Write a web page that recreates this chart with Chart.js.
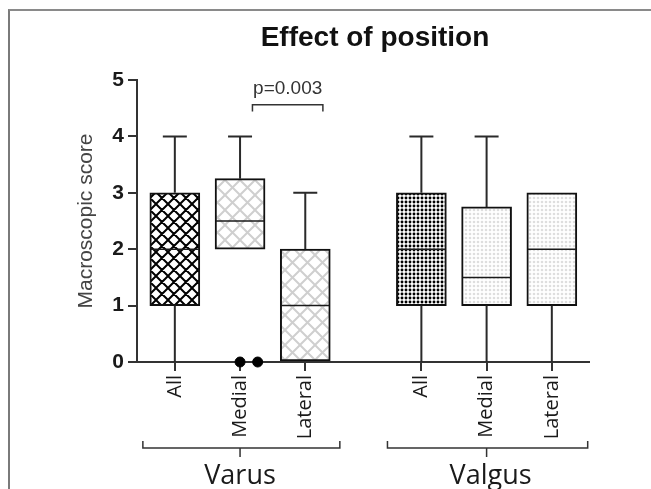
<!DOCTYPE html>
<html>
<head>
<meta charset="utf-8">
<script src="https://cdn.jsdelivr.net/npm/chart.js@4.4.1/dist/chart.umd.min.js"></script>
<style>
  body { margin: 0; background: #fff; }
  #wrap { position: relative; width: 651px; height: 489px; }
  #frame { position: absolute; left: 8px; top: 9px; right: 0; bottom: 0;
           border-top: 2px solid #8a8a8a; border-left: 2px solid #7a7a7a; }
  canvas { position: absolute; left: 0; top: 0; }
</style>
</head>
<body>
<div id="wrap">
  <div id="frame"></div>
  <canvas id="grafico" width="651" height="489"></canvas>
</div>
<script>
// dados
const grupos = ['Varus', 'Valgus'];
const posicoes = ['All', 'Medial', 'Lateral', 'All', 'Medial', 'Lateral'];
const minimo = [0, 2, 0, 0, 0, 0];
const q1 = [1, 2, 0, 1, 1, 1];
const mediana = [2, 2.5, 1, 2, 1.5, 2];
const q3 = [3, 3.25, 2, 3, 2.75, 3];
const maximo = [4, 4, 3, 4, 4, 3];
const outliersX = [2, 2.27];
const outliersY = [0, 0];
const yTicks = [0, 1, 2, 3, 4, 5];
const pValor = 'p=0.003';

// posicao de cada caixa no eixo x (gap entre os grupos)
const slotX = [1, 2, 3, 4.78, 5.78, 6.78];

function padraoCruz(size, color, lw) {
    const c = document.createElement('canvas');
    c.width = c.height = size;
    const g = c.getContext('2d');
    g.fillStyle = '#fff';
    g.fillRect(0, 0, size, size);
    g.strokeStyle = color;
    g.lineWidth = lw;
    g.beginPath();
    for (const o of [-size, 0, size]) {
        g.moveTo(o, 0); g.lineTo(o + size, size);
        g.moveTo(o + size, 0); g.lineTo(o, size);
    }
    g.stroke();
    return g.createPattern(c, 'repeat');
}

function padraoPontos(size, color, r) {
    const c = document.createElement('canvas');
    c.width = c.height = size;
    const g = c.getContext('2d');
    g.fillStyle = '#fff';
    g.fillRect(0, 0, size, size);
    g.fillStyle = color;
    g.beginPath();
    g.arc(size / 2, size / 2, r, 0, Math.PI * 2);
    g.fill();
    return g.createPattern(c, 'repeat');
}

const cruzEscura = padraoCruz(12, '#000', 2);
const cruzClara = padraoCruz(15, '#cfcfcf', 2);
const pontosEscuros = padraoPontos(4, '#000', 1.45);
const pontosClaros = padraoPontos(4, '#dedede', 1.3);
const fundos = [cruzEscura, cruzClara, cruzClara, pontosEscuros, pontosClaros, pontosClaros];

const extras = {
    id: 'extras',
    afterDatasetsDraw(chart) {
        const ctx = chart.ctx;
        const x = chart.scales.x, y = chart.scales.y;
        ctx.save();
        // bigodes
        ctx.strokeStyle = '#2a2a2a';
        ctx.lineWidth = 2;
        slotX.forEach((v, i) => {
            const px = x.getPixelForValue(v);
            ctx.beginPath();
            if (maximo[i] > q3[i]) {
                ctx.moveTo(px, y.getPixelForValue(q3[i]));
                ctx.lineTo(px, y.getPixelForValue(maximo[i]));
                ctx.moveTo(px - 12, y.getPixelForValue(maximo[i]));
                ctx.lineTo(px + 12, y.getPixelForValue(maximo[i]));
            }
            if (minimo[i] < q1[i]) {
                ctx.moveTo(px, y.getPixelForValue(q1[i]));
                ctx.lineTo(px, y.getPixelForValue(minimo[i]));
            }
            ctx.stroke();
        });
        // medianas
        ctx.lineWidth = 1.5;
        ctx.strokeStyle = '#1a1a1a';
        slotX.forEach((v, i) => {
            const px = x.getPixelForValue(v);
            const py = y.getPixelForValue(mediana[i]);
            ctx.beginPath();
            ctx.moveTo(px - 24, py);
            ctx.lineTo(px + 24, py);
            ctx.stroke();
        });
        ctx.restore();
    },
    afterDraw(chart) {
        const ctx = chart.ctx;
        const x = chart.scales.x, y = chart.scales.y;
        const fundo = chart.chartArea.bottom;
        ctx.save();
        // titulo
        ctx.fillStyle = '#111';
        ctx.font = 'bold 28px "Liberation Sans", Arial, sans-serif';
        ctx.textAlign = 'center';
        ctx.textBaseline = 'alphabetic';
        ctx.fillText('Effect of position', 375, 46);

        // p valor
        ctx.strokeStyle = '#333';
        ctx.lineWidth = 1.5;
        const xa = x.getPixelForValue(2.19), xb = x.getPixelForValue(3.27);
        const yl = y.getPixelForValue(4.56), yt = y.getPixelForValue(4.44);
        ctx.beginPath();
        ctx.moveTo(xa, yt); ctx.lineTo(xa, yl); ctx.lineTo(xb, yl); ctx.lineTo(xb, yt);
        ctx.stroke();
        ctx.fillStyle = '#333';
        ctx.font = '19px "Liberation Sans", Arial, sans-serif';
        ctx.fillText(pValor, (xa + xb) / 2, y.getPixelForValue(4.76));

        // chaves dos grupos
        const chaves = [[0.51, 2, 3.53], [4.26, 5.78, 7.33]];
        ctx.lineWidth = 1.5;
        ctx.strokeStyle = '#333';
        ctx.font = '27px "Open Sans", sans-serif';
        ctx.fillStyle = '#1a1a1a';
        chaves.forEach((c, i) => {
            const a = x.getPixelForValue(c[0]), m = x.getPixelForValue(c[1]), b = x.getPixelForValue(c[2]);
            const by = fundo + 86;
            ctx.beginPath();
            ctx.moveTo(a, by - 7); ctx.lineTo(a, by); ctx.lineTo(b, by); ctx.lineTo(b, by - 7);
            ctx.moveTo(m, by); ctx.lineTo(m, by + 9);
            ctx.stroke();
            ctx.fillText(grupos[i], m + (i === 0 ? 0 : 4), fundo + 122);
        });
        ctx.restore();
    }
};

new Chart(document.getElementById('grafico'), {
    type: 'bar',
    data: {
        datasets: [{
            label: 'caixas',
            data: slotX.map((v, i) => ({ x: v, y: [q1[i], q3[i]] })),
            backgroundColor: fundos,
            borderColor: '#111',
            borderWidth: 2,
            borderSkipped: false,
            barThickness: 50
        }, {
            type: 'scatter',
            label: 'outliers',
            data: outliersX.map((v, i) => ({ x: v, y: outliersY[i] })),
            backgroundColor: '#000',
            borderColor: '#000',
            pointRadius: 5,
            clip: false
        }]
    },
    options: {
        responsive: false,
        animation: false,
        devicePixelRatio: 1,
        layout: { padding: { left: 74, right: 62, top: 80, bottom: 0 } },
        plugins: { legend: { display: false }, tooltip: { enabled: false } },
        scales: {
            x: {
                type: 'linear',
                offset: false,
                min: 0.42,
                max: 7.35,
                afterBuildTicks: (axis) => { axis.ticks = slotX.map(v => ({ value: v })); },
                afterFit: (axis) => { axis.height = 127; },
                grid: { offset: false, drawOnChartArea: false, drawTicks: true, tickLength: 9, color: '#333', lineWidth: 2 },
                border: { display: true, color: '#333', width: 2 },
                ticks: {
                    autoSkip: false,
                    minRotation: 90,
                    maxRotation: 90,
                    padding: 4,
                    color: '#1a1a1a',
                    font: { family: '"Open Sans", sans-serif', size: 20 },
                    callback: (value, index) => posicoes[index]
                }
            },
            y: {
                min: 0,
                max: 5,
                afterBuildTicks: (axis) => { axis.ticks = yTicks.map(v => ({ value: v })); },
                afterFit: (axis) => { axis.width = 63; },
                grid: { drawOnChartArea: false, drawTicks: true, tickLength: 9, color: '#333', lineWidth: 2 },
                border: { display: true, color: '#333', width: 2 },
                ticks: {
                    padding: 4,
                    color: '#1a1a1a',
                    font: { family: '"Liberation Sans", Arial, sans-serif', size: 21, weight: 'bold' }
                },
                title: {
                    display: true,
                    text: 'Macroscopic score',
                    color: '#444',
                    padding: 0,
                    font: { family: '"Liberation Sans", Arial, sans-serif', size: 21 }
                }
            }
        }
    },
    plugins: [extras]
});
</script>
</body>
</html>
